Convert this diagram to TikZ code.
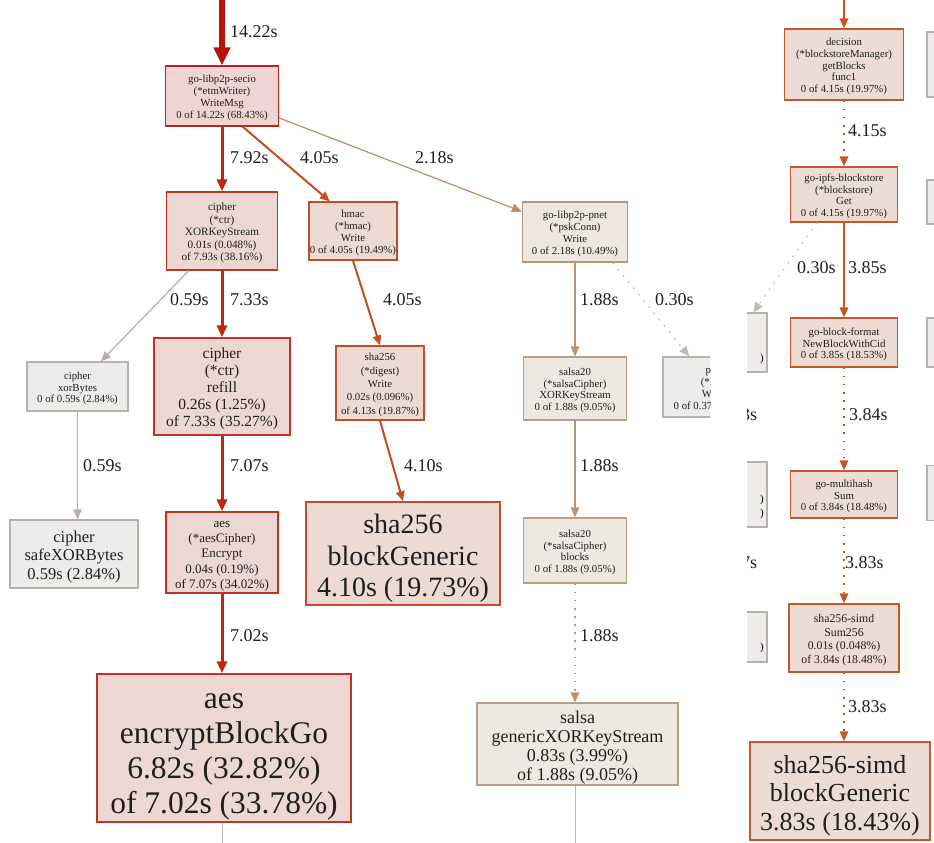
\documentclass[tikz,border=0pt]{standalone}
\usepackage{fontspec}
\setmainfont{Liberation Serif}
\usetikzlibrary{arrows.meta}
\newcommand\fsz[2]{\fontsize{#1}{#2}\selectfont}
% uniform first-line height so every text block sits the same way in its box
\newcommand\fl{\rule{0pt}{1.05em}}

% node fills and borders (hot = red, warm = orange, mild = tan, cold = grey)
\definecolor{hotfill}{HTML}{EED5D4}
\definecolor{hotdraw}{HTML}{B8251C}
\definecolor{redfill}{HTML}{EDD7D2}
\definecolor{reddraw}{HTML}{BC3424}
\definecolor{warmfill}{HTML}{EDDAD3}
\definecolor{warmdraw}{HTML}{BE5029}
\definecolor{orfill}{HTML}{EDDCD4}
\definecolor{ordraw}{HTML}{C0592B}
\definecolor{tanfill}{HTML}{EDE6E1}
\definecolor{tandraw}{HTML}{B8957A}
\definecolor{sandfill}{HTML}{EEE8E3}
\definecolor{sanddraw}{HTML}{B89F86}
\definecolor{greyfill}{HTML}{EDECEA}
\definecolor{greydraw}{HTML}{B5B1AB}
% edge colours
\definecolor{ehot}{HTML}{B8130A}
\definecolor{ered}{HTML}{B9280F}
\definecolor{ewarm}{HTML}{C0501E}
\definecolor{eor}{HTML}{C4561F}
\definecolor{etan}{HTML}{BE8E68}
\definecolor{esand}{HTML}{BB936E}
\definecolor{egrey}{HTML}{B8B0A6}
\definecolor{ecold}{HTML}{BDBAB5}

\tikzset{
  box/.style={draw, rectangle, inner sep=0pt, align=center, line width=1.2pt, text=black!88},
  hotbox/.style={box, fill=hotfill, draw=hotdraw},
  redbox/.style={box, fill=redfill, draw=reddraw},
  warmbox/.style={box, fill=warmfill, draw=warmdraw},
  orbox/.style={box, fill=orfill, draw=ordraw},
  tanbox/.style={box, fill=tanfill, draw=tandraw},
  sandbox/.style={box, fill=sandfill, draw=sanddraw},
  greybox/.style={box, fill=greyfill, draw=greydraw},
  small/.style={font=\fsz{10.8}{11.8}},
  lbl/.style={anchor=west, inner sep=0pt, font=\fsz{18}{19}, text=black!88},
  tipS/.style={-{Triangle[length=10pt,width=8.5pt]}},
  tipM/.style={-{Triangle[length=12pt,width=10pt]}},
  tipL/.style={-{Triangle[length=18pt,width=16pt]}},
  dotline/.style={dash pattern=on 1.6pt off 6.5pt},
}

\begin{document}
\begin{tikzpicture}[x=1pt,y=-1pt]
\useasboundingbox (0,0) rectangle (934,843);
\fill[white] (0,0) rectangle (934,843);

% ---------------- left panel ----------------
\begin{scope}
\clip (0,0) rectangle (710,843);

\coordinate (topin) at (222,0);
\node (secio) [hotbox, small, minimum width=113, minimum height=60] at (222,96)
  {\fl go-libp2p-secio\\(*etmWriter)\\WriteMsg\\0 of 14.22s (68.43\%)};
\node (ctr) [redbox, font=\fsz{11.2}{12.6}, minimum width=111, minimum height=78] at (222,231)
  {\fl cipher\\(*ctr)\\XORKeyStream\\0.01s (0.048\%)\\of 7.93s (38.16\%)};
\node (hmac) [warmbox, small, minimum width=88, minimum height=58] at (353,231)
  {\fl hmac\\(*hmac)\\Write\\0 of 4.05s (19.49\%)};
\node (pnet) [tanbox, small, minimum width=105, minimum height=60] at (575,232)
  {\fl go-libp2p-pnet\\(*pskConn)\\Write\\0 of 2.18s (10.49\%)};
\node (xorb) [greybox, small, minimum width=101, minimum height=49] at (77.5,386.5)
  {\fl cipher\\xorBytes\\0 of 0.59s (2.84\%)};
\node (refill) [redbox, font=\fsz{15.5}{17}, minimum width=136, minimum height=97] at (222,386.5)
  {\fl cipher\\(*ctr)\\refill\\0.26s (1.25\%)\\of 7.33s (35.27\%)};
\node (digest) [warmbox, font=\fsz{10.8}{13.3}, minimum width=88, minimum height=74] at (380,383)
  {\fl sha256\\(*digest)\\Write\\0.02s (0.096\%)\\of 4.13s (19.87\%)};
\node (salsax) [sandbox, small, minimum width=103, minimum height=63] at (575,388.5)
  {\fl salsa20\\(*salsaCipher)\\XORKeyStream\\0 of 1.88s (9.05\%)};
\node (poll) [greybox, small, minimum width=102, minimum height=60] at (714,387)
  {\fl poll\\(*FD)\\Write\\0 of 0.37s (1.78\%)};
\node (safe) [greybox, font=\fsz{16.5}{18.5}, minimum width=128, minimum height=68] at (74,554)
  {\fl cipher\\safeXORBytes\\0.59s (2.84\%)};
\node (aesenc) [redbox, font=\fsz{13}{15.4}, minimum width=112, minimum height=81] at (222,552.5)
  {\fl aes\\(*aesCipher)\\Encrypt\\0.04s (0.19\%)\\of 7.07s (34.02\%)};
\node (shabg) [warmbox, font=\fsz{28}{31.5}, line width=1.4pt, minimum width=194, minimum height=103] at (403,553.5)
  {\fl sha256\\blockGeneric\\4.10s (19.73\%)};
\node (salsab) [sandbox, small, minimum width=103, minimum height=65] at (575,550.5)
  {\fl salsa20\\(*salsaCipher)\\blocks\\0 of 1.88s (9.05\%)};
\node (aesbg) [redbox, font=\fsz{31.5}{35}, line width=1.5pt, minimum width=254, minimum height=148] at (224,748)
  {\fl aes\\encryptBlockGo\\6.82s (32.82\%)\\of 7.02s (33.78\%)};
\node (salsag) [sandbox, font=\fsz{18}{19}, minimum width=201, minimum height=82] at (577.5,744)
  {\fl salsa\\genericXORKeyStream\\0.83s (3.99\%)\\of 1.88s (9.05\%)};
\coordinate (aesout) at (222,843);
\coordinate (salsaout) at (575,843);

% edges
\draw[ehot, line width=5.5pt, tipL] (topin) -- (secio.north);
\draw[ered, line width=3pt, tipM] (secio.south) -- (ctr.north);
\draw[ewarm, line width=2pt, tipS] (secio.-56) -- (hmac.128);
\draw[etan, line width=1.2pt, tipS] (secio.-21) -- (pnet.159);
\draw[egrey, line width=1.2pt, tipS] (ctr.-130) -- (xorb.47);
\draw[ered, line width=3pt, tipM] (ctr.south) -- (refill.north);
\draw[ewarm, line width=2pt, tipS] (hmac.south) -- (digest.north);
\draw[esand, line width=1.5pt, tipS] (pnet.south) -- (salsax.north);
\draw[ecold, line width=1.2pt, dotline, tipS] (pnet.-39) -- (poll.129);
\draw[egrey, line width=1.2pt, tipS] (xorb.south) -- (xorb.south |- safe.north);
\draw[ered, line width=3pt, tipM] (refill.south) -- (aesenc.north);
\draw[ewarm, line width=2pt, tipS] (digest.south) -- (shabg.north);
\draw[esand, line width=1.5pt, tipS] (salsax.south) -- (salsab.north);
\draw[ered, line width=3pt, tipM] (aesenc.south) -- (aesenc.south |- aesbg.north);
\draw[esand, line width=1.5pt, dotline, tipS] (salsab.south) -- (salsab.south |- salsag.north);
\draw[ecold, line width=1pt] (aesbg.south -| aesout) -- (aesout);
\draw[ecold, line width=1pt] (salsag.south -| salsaout) -- (salsaout);

% edge labels
\node (l1) [lbl] at (230,32) {14.22s};
\node (l2) [lbl] at (230,158) {7.92s};
\node (l3) [lbl] at (300,158) {4.05s};
\node (l4) [lbl] at (415,158) {2.18s};
\node (l5) [lbl] at (170,300) {0.59s};
\node (l6) [lbl] at (230,300) {7.33s};
\node (l7) [lbl] at (383,300) {4.05s};
\node (l8) [lbl] at (580,300) {1.88s};
\node (l9) [lbl] at (655,300) {0.30s};
\node (l10) [lbl] at (83,466) {0.59s};
\node (l11) [lbl] at (230,466) {7.07s};
\node (l12) [lbl] at (404,466) {4.10s};
\node (l13) [lbl] at (580,466) {1.88s};
\node (l14) [lbl] at (230,636) {7.02s};
\node (l15) [lbl] at (580,636) {1.88s};
\end{scope}

% ---------------- right panel ----------------
\begin{scope}
\clip (747,0) rectangle (934,843);

\coordinate (rtopin) at (844,0);
\node (decision) [orbox, small, minimum width=119, minimum height=71] at (844,64.5)
  {\fl decision\\(*blockstoreManager)\\getBlocks\\func1\\0 of 4.15s (19.97\%)};
\node (bstore) [orbox, small, minimum width=107, minimum height=55] at (844,194.5)
  {\fl go-ipfs-blockstore\\(*blockstore)\\Get\\0 of 4.15s (19.97\%)};
\node (bformat) [orbox, small, minimum width=107, minimum height=49] at (844,342.5)
  {\fl go-block-format\\NewBlockWithCid\\0 of 3.85s (18.53\%)};
\node (mhash) [orbox, small, minimum width=107, minimum height=47] at (844,494.5)
  {\fl go-multihash\\Sum\\0 of 3.84s (18.48\%)};
\node (simdsum) [orbox, font=\fsz{11.8}{13.6}, minimum width=110, minimum height=68] at (844,638)
  {\fl sha256-simd\\Sum256\\0.01s (0.048\%)\\of 3.84s (18.48\%)};
\node (simdbg) [orbox, font=\fsz{26}{28.5}, line width=1.4pt, minimum width=180, minimum height=98] at (840,791)
  {\fl sha256-simd\\blockGeneric\\3.83s (18.43\%)};

% neighbouring nodes cut by the panel edges
\node (nl1) [greybox, minimum width=102, minimum height=59] at (716,342.5) {};
\node (nl2) [greybox, minimum width=102, minimum height=65] at (716,494.5) {};
\node (nl3) [greybox, minimum width=102, minimum height=50] at (716,637) {};
\node (nr1) [greybox, minimum width=100, minimum height=65] at (977,64.5) {};
\node (nr2) [greybox, minimum width=100, minimum height=44] at (977,202) {};
\node (nr3) [greybox, minimum width=100, minimum height=49] at (977,342.5) {};
\node (nr4) [greybox, minimum width=100, minimum height=55] at (977,493) {};
\node (p1) [small, anchor=east, inner sep=0pt] at (764,359) {)};
\node (p2) [small, anchor=east, inner sep=0pt] at (764,500) {)};
\node (p3) [small, anchor=east, inner sep=0pt] at (764,514) {)};
\node (p4) [small, anchor=east, inner sep=0pt] at (764,648) {)};

% edges
\draw[eor, line width=1.8pt, tipS] (rtopin) -- (decision.north);
\draw[eor, line width=1.8pt, dotline, tipS] (decision.south) -- (bstore.north);
\draw[eor, line width=1.6pt, tipS] (bstore.south) -- (bformat.north);
\draw[ecold, line width=1pt, dotline, tipS] (bstore.-134) -- (nl1.39);
\draw[eor, line width=1.6pt, dotline, tipS] (bformat.south) -- (mhash.north);
\draw[eor, line width=1.6pt, dotline, tipS] (mhash.south) -- (simdsum.north);
\draw[eor, line width=1.6pt, dotline, tipS] (simdsum.south) -- (simdsum.south |- simdbg.north);

% edge labels
\node (r1) [lbl] at (848,131) {4.15s};
\node (r2) [lbl] at (797,268) {0.30s};
\node (r3) [lbl] at (848,268) {3.85s};
\node (r4) [lbl] at (849,415) {3.84s};
\node (r5) [lbl] at (845,563) {3.83s};
\node (r6) [lbl] at (848,707) {3.83s};
\node (r7) [lbl] at (741,415) {3s};
\node (r8) [lbl] at (741,563) {7s};
\end{scope}
\end{tikzpicture}
\end{document}
